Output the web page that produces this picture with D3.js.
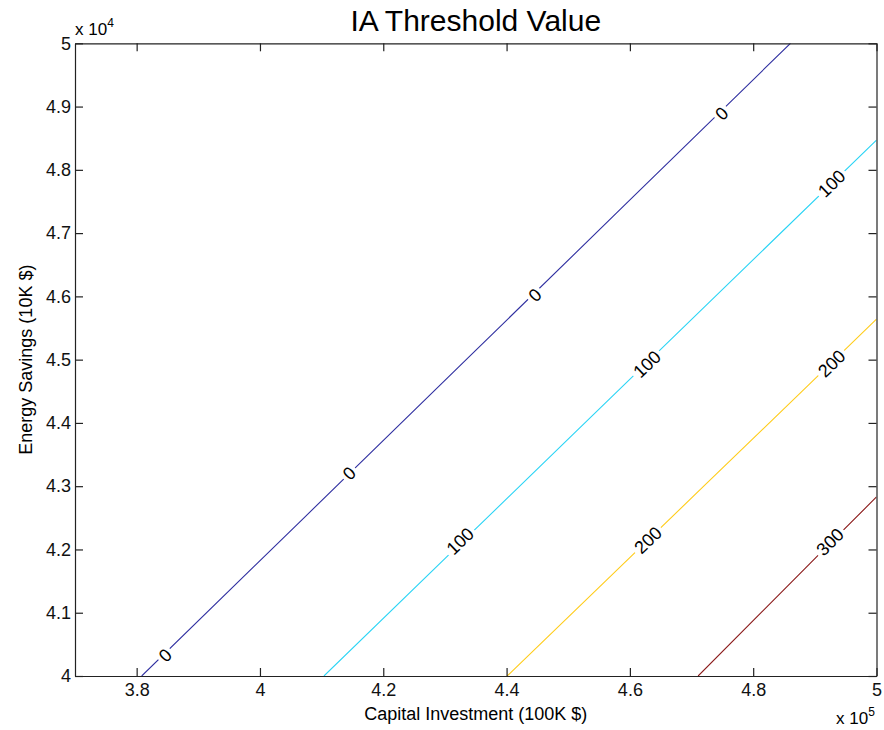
<!DOCTYPE html>
<html>
<head>
<meta charset="utf-8">
<script src="https://cdn.jsdelivr.net/npm/d3@7"></script>
<style>
  html, body { margin: 0; padding: 0; background: #fff; }
  svg { display: block; font-family: "Liberation Sans", Arial, Helvetica, sans-serif; }
</style>
</head>
<body>
<svg id="chart" width="884" height="730"></svg>
<script>
// Contour levels of the IA threshold value
const levels = [0, 100, 200, 300];
const levelColors = ["#2f2fa0", "#2ad4f5", "#ffcc1a", "#8b1a1a"];

// Contour paths: capital investment ($) against energy savings ($)
const savings0 = [40000, 42500, 45000, 47500, 50000];
const capital0 = [380820, 407140, 433450, 459760, 486050];
const savings100 = [40000, 42000, 44000, 46000, 48470];
const capital100 = [410380, 431540, 452700, 473860, 500000];
const savings200 = [40000, 41500, 43000, 44500, 45640];
const capital200 = [440100, 456040, 471980, 487910, 500000];
const savings300 = [40000, 41000, 42000, 42830];
const capital300 = [471070, 481280, 491490, 500000];

// Inline contour label anchors
const labelLevel   = [0, 0, 0, 0, 100, 100, 100, 200, 200, 300];
const labelCapital = [384590, 414430, 444590, 474870, 432430, 462750, 492700, 462910, 492700, 492430];
const labelSavings = [40332, 43208, 46022, 48894, 42134, 44931, 47787, 42150, 44942, 42123];

// Axis ticks
const xTicks = [380000, 400000, 420000, 440000, 460000, 480000, 500000];
const yTicks = [40000, 41000, 42000, 43000, 44000, 45000, 46000, 47000, 48000, 49000, 50000];
const xDomain = [370000, 500000];
const yDomain = [40000, 50000];

const titleText = "IA Threshold Value";
const xLabel = "Capital Investment (100K $)";
const yLabel = "Energy Savings (10K $)";

const svg = d3.select("#chart");
const pL = 75, pR = 876.5, pT = 43.3, pB = 676;

const x = d3.scaleLinear().domain(xDomain).range([pL, pR]);
const y = d3.scaleLinear().domain(yDomain).range([pB, pT]);

const trim = v => +v.toFixed(1) + "";
const xFmt = d => trim(d / 1e5);
const yFmt = d => trim(d / 1e4);

const series = [
  { level: 0,   sv: savings0,   cp: capital0 },
  { level: 100, sv: savings100, cp: capital100 },
  { level: 200, sv: savings200, cp: capital200 },
  { level: 300, sv: savings300, cp: capital300 }
];

const plot = svg.append("g");
plot.append("clipPath").attr("id", "clip")
  .append("rect").attr("x", pL).attr("y", pT)
  .attr("width", pR - pL).attr("height", pB - pT);

const line = d3.line().x(d => x(d[0])).y(d => y(d[1]));

const lines = plot.append("g").attr("clip-path", "url(#clip)");
series.forEach(s => {
  const pts = s.cp.map((c, i) => [c, s.sv[i]]);
  lines.append("path")
    .attr("d", line(pts))
    .attr("fill", "none")
    .attr("stroke", levelColors[levels.indexOf(s.level)])
    .attr("stroke-width", 1.1);
});

// Inline labels, rotated along their contour, with a gap cut in the line
const labelSize = 18;
const labels = plot.append("g");
labelLevel.forEach((lv, i) => {
  const s = series.find(d => d.level === lv);
  const n = s.cp.length - 1;
  const dx = x(s.cp[n]) - x(s.cp[0]);
  const dy = y(s.sv[n]) - y(s.sv[0]);
  const ang = Math.atan2(dy, dx) * 180 / Math.PI;
  const g = labels.append("g")
    .attr("transform", `translate(${x(labelCapital[i])},${y(labelSavings[i])}) rotate(${ang})`);
  const txt = String(lv);
  const w = txt.length * labelSize * 0.556 + 6;
  g.append("rect").attr("x", -w / 2).attr("y", -7).attr("width", w).attr("height", 14).attr("fill", "#fff");
  g.append("text")
    .attr("text-anchor", "middle")
    .attr("dy", "0.36em")
    .attr("font-size", labelSize)
    .attr("fill", "#000")
    .text(txt);
});

// Axes box with inward ticks on all four sides
const axisColor = "#222";
const tickLen = 8;
const axes = svg.append("g");
const bottomAxis = d3.axisBottom(x).tickValues(xTicks).tickFormat(xFmt).tickSizeInner(-tickLen).tickSizeOuter(0).tickPadding(7);
const topAxis = d3.axisTop(x).tickValues(xTicks).tickFormat("").tickSizeInner(-tickLen).tickSizeOuter(0);
const leftAxis = d3.axisLeft(y).tickValues(yTicks).tickFormat(yFmt).tickSizeInner(-tickLen).tickSizeOuter(0).tickPadding(4);
const rightAxis = d3.axisRight(y).tickValues(yTicks).tickFormat("").tickSizeInner(-tickLen).tickSizeOuter(0);

function style(g) {
  g.select(".domain").attr("stroke", axisColor).attr("stroke-width", 1.2);
  g.selectAll(".tick line").attr("stroke", axisColor).attr("stroke-width", 1.2);
  g.selectAll(".tick text").attr("fill", "#111").attr("font-size", 18)
    .attr("font-family", "Liberation Sans, Arial, sans-serif");
}
axes.append("g").attr("transform", `translate(0,${pB})`).call(bottomAxis).call(style);
axes.append("g").attr("transform", `translate(0,${pT})`).call(topAxis).call(style);
axes.append("g").attr("transform", `translate(${pL},0)`).call(leftAxis).call(style);
axes.append("g").attr("transform", `translate(${pR},0)`).call(rightAxis).call(style);

// Title
svg.append("text")
  .attr("x", (pL + pR) / 2).attr("y", 31)
  .attr("text-anchor", "middle").attr("font-size", 30).attr("fill", "#000")
  .text(titleText);

// Axis titles
svg.append("text")
  .attr("x", (pL + pR) / 2).attr("y", 720)
  .attr("text-anchor", "middle").attr("font-size", 18).attr("fill", "#000")
  .text(xLabel);
svg.append("text")
  .attr("transform", `translate(32,${(pT + pB) / 2}) rotate(-90)`)
  .attr("text-anchor", "middle").attr("font-size", 18).attr("fill", "#000")
  .text(yLabel);

// Exponent multipliers
function multiplier(px, py, exp) {
  const t = svg.append("text").attr("x", px).attr("y", py).attr("font-size", 17).attr("fill", "#000");
  t.append("tspan").text("x 10");
  t.append("tspan").attr("dy", -8).attr("font-size", 12).text(exp);
}
multiplier(pL, 35, "4");
multiplier(836, 724, "5");
</script>
</body>
</html>
